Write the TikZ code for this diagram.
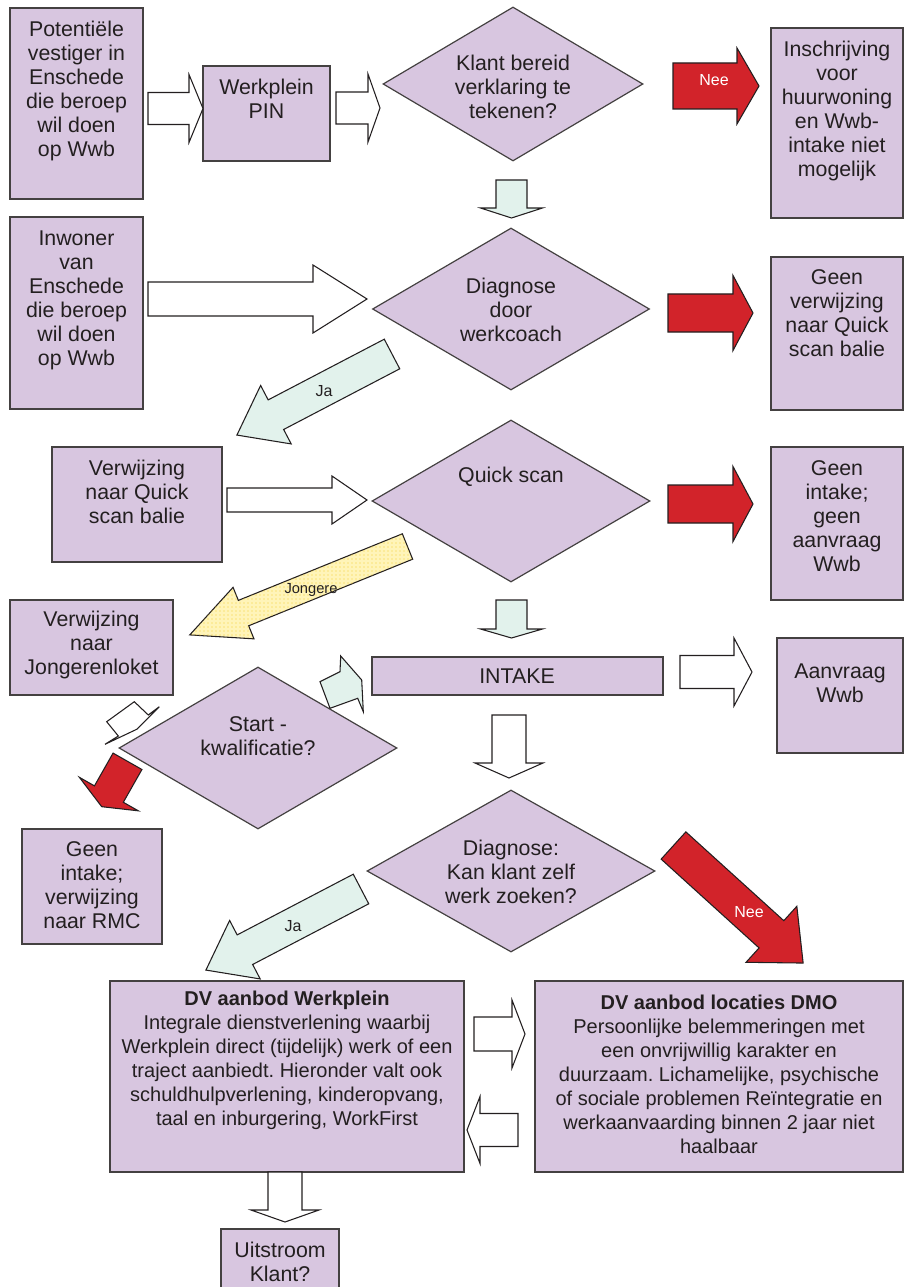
\documentclass[tikz,border=0pt]{standalone}
\usepackage{fontspec}
\setmainfont{Liberation Sans}
\usetikzlibrary{shapes.geometric,patterns}
\frenchspacing
\definecolor{lav}{RGB}{216,198,224}
\definecolor{redA}{RGB}{210,35,42}
\definecolor{mint}{RGB}{226,242,236}
\definecolor{ylw}{RGB}{255,244,185}
\definecolor{ydot}{RGB}{245,208,50}
\definecolor{ink}{RGB}{35,31,32}
\newcommand{\BArrow}[7]{%
  \begin{scope}[shift={(#2)},rotate=#3]
    \draw[#1] (0,-#5) -- ({#4-#7},-#5) -- ({#4-#7},-#6) -- (#4,0) -- ({#4-#7},#6) -- ({#4-#7},#5) -- (0,#5) -- cycle;
  \end{scope}}
\tikzset{
  sz/.style 2 args={minimum width=#1*0.75pt, minimum height=#2*0.75pt},
  box/.style={draw=ink!85, line width=0.9pt, fill=lav, inner sep=0pt, rectangle},
  dia/.style={draw=ink!85, line width=0.9pt, fill=lav, inner sep=0pt, diamond},
  txt/.style={text=ink, align=center, inner sep=0pt, font=\fontsize{16}{18}\selectfont},
  smalltxt/.style={txt, font=\fontsize{15}{18}\selectfont},
  lbl/.style={text=ink, inner sep=0pt, font=\fontsize{12}{14}\selectfont},
  whitearrow/.style={draw=ink, line width=0.8pt, fill=white},
  redarrow/.style={draw=ink, line width=0.8pt, fill=redA},
  mintarrow/.style={draw=ink, line width=0.8pt, fill=mint},
  yelarrow/.style={draw=ink, line width=0.8pt, fill=ylw, postaction={pattern=dots, pattern color=ydot}},
}
\begin{document}
\begin{tikzpicture}[x=0.75pt,y=-0.75pt]
\path[use as bounding box] (0,0) rectangle (904,1287);
\clip (0,0) rectangle (904,1287);

% boxes
\node[box, sz={133}{191}] (b1) at (76.5,103.5) {};
\node[box, sz={127}{95}] (b2) at (266.5,113.5) {};
\node[box, sz={132}{190}] (b3) at (837,123) {};
\node[box, sz={133}{192}] (b4) at (76.5,313) {};
\node[box, sz={132}{153}] (b5) at (837,333.5) {};
\node[box, sz={170}{115}] (b6) at (137,504.5) {};
\node[box, sz={132}{153}] (b7) at (837,523.5) {};
\node[box, sz={163}{95}] (b8) at (91.5,647.5) {};
\node[box, sz={291}{38}] (b9) at (517.5,676) {};
\node[box, sz={126}{115}] (b10) at (840,695.5) {};
\node[box, sz={140}{115}] (b11) at (92,886.5) {};
\node[box, sz={354}{191}] (b12) at (287,1076.5) {};
\node[box, sz={368}{191}] (b13) at (719,1076.5) {};
\node[box, sz={118}{71}] (b14) at (280,1264.5) {};

% diamonds
\node[dia, sz={260}{154}] (d1) at (513,84) {};
\node[dia, sz={277}{162}] (d2) at (511,309) {};
\node[dia, sz={278}{162}] (d3) at (511,501) {};
\node[dia, sz={278}{162}] (d4) at (258,748) {};
\node[dia, sz={288}{162}] (d5) at (511,871) {};

% texts
\node[txt] (t1) at (76.5,91) {Potentiële\\vestiger in\\Enschede\\die beroep\\wil doen\\op Wwb};
\node[txt] (t2) at (266.5,99) {Werkplein\\PIN};
\node[txt] (t3) at (513,87) {Klant bereid\\verklaring te\\tekenen?};
\node[txt] (t4) at (837,111) {Inschrijving\\voor\\huurwoning\\en Wwb-\\intake niet\\mogelijk};
\node[txt] (t5) at (76.5,300) {Inwoner\\van\\Enschede\\die beroep\\wil doen\\op Wwb};
\node[txt] (t6) at (511,310) {Diagnose\\door\\werkcoach};
\node[txt] (t7) at (837,313.5) {Geen\\verwijzing\\naar Quick\\scan balie};
\node[txt] (t8) at (137,492) {Verwijzing\\naar Quick\\scan balie};
\node[txt] (t9) at (511,477) {Quick scan};
\node[txt] (t10) at (837,516.5) {Geen\\intake;\\geen\\aanvraag\\Wwb};
\node[txt] (t11) at (91.5,645) {Verwijzing\\naar\\Jongerenloket};
\node[txt] (t12) at (517,676) {INTAKE};
\node[txt] (t13) at (840,683.5) {Aanvraag\\Wwb};
\node[txt] (t14) at (258,736.5) {Start -\\kwalificatie?};
\node[txt] (t15) at (92,885.5) {Geen\\intake;\\verwijzing\\naar RMC};
\node[txt] (t16) at (511,872) {Diagnose:\\Kan klant zelf\\werk zoeken?};
\node[smalltxt] (t17) at (287,1060) {\textbf{DV aanbod Werkplein}\\Integrale dienstverlening waarbij\\Werkplein direct (tijdelijk) werk of een\\traject aanbiedt. Hieronder valt ook\\schuldhulpverlening, kinderopvang,\\taal en inburgering, WorkFirst};
\node[smalltxt] (t18) at (719,1074) {\textbf{DV aanbod locaties DMO}\\Persoonlijke belemmeringen met\\een onvrijwillig karakter en\\duurzaam. Lichamelijke, psychische\\of sociale problemen Reïntegratie en\\werkaanvaarding binnen 2 jaar niet\\haalbaar};
\node[txt] (t19) at (280,1261.5) {Uitstroom\\Klant?};

% block arrows
\BArrow{whitearrow}{148,108.5}{0}{55}{16}{34}{14}
\BArrow{whitearrow}{336,108}{0}{44}{16}{34}{12}
\BArrow{redarrow}{673,86}{0}{86}{23}{38}{22}
\BArrow{mintarrow}{511.5,180}{-90}{38}{15.5}{31}{10}
\BArrow{whitearrow}{148,299}{0}{219}{17}{34}{54}
\BArrow{redarrow}{668,313}{0}{85}{19}{37.5}{20}
\BArrow{mintarrow}{392,354}{207.6}{175}{16.7}{33}{44}
\BArrow{whitearrow}{227,500}{0}{140}{12}{24}{35}
\BArrow{redarrow}{668,504}{0}{85}{19}{37.5}{20}
\BArrow{yelarrow}{407.5,546.5}{202.1}{235}{13.7}{27.8}{58}
\BArrow{mintarrow}{511.5,600}{-90}{38}{15.5}{31}{9}
\BArrow{whitearrow}{680,672}{0}{72}{16.5}{34}{18}
\BArrow{whitearrow}{509,715}{-90}{63}{17}{34}{15}
\BArrow{redarrow}{673.5,845.5}{-42.2}{175}{18.4}{37.8}{42.8}
\BArrow{mintarrow}{361,889}{207.6}{175}{16.7}{33}{44}
\BArrow{whitearrow}{474,1034}{0}{51}{17}{34}{13}
\BArrow{whitearrow}{518,1130}{180}{51}{16.5}{33.5}{13}
\BArrow{whitearrow}{285,1172}{-90}{50}{17}{34}{12}
\BArrow{redarrow}{127.5,761.3}{240.4}{52.2}{16.6}{33.9}{14.5}
\draw[whitearrow] (106.7,721.7) -- (134.3,701.7) -- (148.3,715) -- (159.3,706.7) -- (136.7,729.3) -- (105,744.3) -- (118.3,736) -- cycle;
\draw[mintarrow] (320,681.7) -- (340,671.7) -- (340.7,656) -- (361.7,680) -- (363.3,711.7) -- (357.7,698.3) -- (330,708.3) -- cycle;

% arrow labels
\node[lbl, text=white] (l1) at (714,80) {Nee};
\node[lbl] (l2) at (324,391) {Ja};
\node[lbl, font=\fontsize{11}{13}\selectfont] (l3) at (311,590) {Jongere};
\node[lbl, text=white] (l4) at (749,912) {Nee};
\node[lbl] (l5) at (293,926) {Ja};
\end{tikzpicture}
\end{document}
